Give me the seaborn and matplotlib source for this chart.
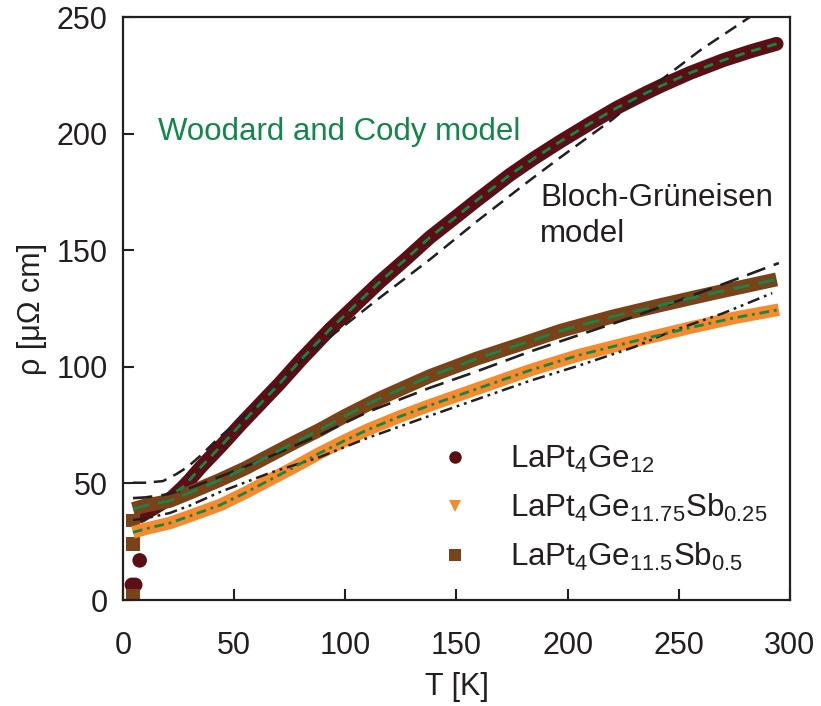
import numpy as np
import pandas as pd
import matplotlib
matplotlib.use("Agg")
import matplotlib.pyplot as plt
from matplotlib.lines import Line2D
import seaborn as sns

# ---------------- data ----------------
# LaPt4Ge12 measured resistivity
T_ge12 = [8, 15, 22, 27, 30, 35, 40, 45, 52.6, 60, 70.6, 80, 93, 104, 115.6, 127,
          138, 150, 159, 174, 185, 197, 210, 222, 235, 242, 255, 270, 283, 294]
rho_ge12 = [36, 40, 44, 48.5, 51.5, 57, 62, 67, 75, 82.4, 93, 103, 116, 126, 136.5, 146,
            155.5, 164.5, 171.3, 182.3, 189.5, 196.8, 204.3, 211, 217.3, 220.5, 226,
            231.5, 235.5, 238.5]
# superconducting drop (low-T points)
T_ge12_low = [4.0, 5.5, 7.5]
rho_ge12_low = [6.5, 6.5, 17]

# LaPt4Ge11.75Sb0.25
T_sb025 = [4.5, 10, 21, 30, 43.6, 55, 66, 77, 88.5, 100, 110, 124, 138, 159, 183,
           205, 230, 256, 275, 295]
rho_sb025 = [29, 30.5, 33, 36, 40.7, 46, 51.5, 57, 63, 68.5, 73, 78.5, 83.5, 90.5, 98.5,
             105, 111, 117, 121, 124.5]

# LaPt4Ge11.5Sb0.5
T_sb05 = [4.5, 10, 21, 30, 43.6, 55, 66, 77, 88.5, 100, 115.6, 138, 159, 183, 197,
          220, 242, 265, 294]
rho_sb05 = [39, 40.5, 42.5, 46, 51.5, 56.5, 62, 67.5, 73, 79, 86.5, 96, 103.5, 111,
            115.5, 121.5, 126.5, 131.5, 137.5]
T_sb05_low = [4.5, 4.5, 4.5]
rho_sb05_low = [2, 24, 34]

# Bloch-Grueneisen fits (black)
T_bg_ge12 = [4.5, 10, 18, 24, 29, 35, 43.6, 50, 60, 66, 84, 100, 116, 138, 160, 183,
             197, 220, 242, 260, 282, 300]
rho_bg_ge12 = [50.3, 50.3, 51, 54, 57, 62, 70, 75, 83, 89, 106, 118, 130, 146, 163, 180,
               190, 206, 223, 236, 250, 263]
T_bg_sb05 = [4.5, 10, 20, 30, 48, 66, 88.5, 110, 138, 159, 183, 205, 225, 246, 270, 295]
rho_bg_sb05 = [43.7, 44, 45.3, 48, 54.5, 61.5, 70.8, 80.6, 91, 98, 106.5, 113.6, 120,
               127, 135.5, 144.5]
T_bg_sb025 = [4.5, 10, 21, 30, 43.6, 66, 88.5, 110, 138, 159, 183, 205, 230, 246, 270, 292]
rho_bg_sb025 = [34.3, 35, 37.3, 40.5, 46.3, 54.5, 61.3, 69.5, 79, 86, 94, 100.5, 108.5,
                115, 123, 131.6]

# Woodard and Cody fits (green)
T_wc_ge12 = [24] + T_ge12[3:]
rho_wc_ge12 = [46.5] + rho_ge12[3:]
T_wc_sb05 = T_sb05
rho_wc_sb05 = rho_sb05
T_wc_sb025 = T_sb025
rho_wc_sb025 = rho_sb025

labels = [r"LaPt$_{4}$Ge$_{12}$",
          r"LaPt$_{4}$Ge$_{11.75}$Sb$_{0.25}$",
          r"LaPt$_{4}$Ge$_{11.5}$Sb$_{0.5}$"]

# ---------------- style ----------------
sns.set_theme(style="ticks")
plt.rcParams["font.family"] = ["Liberation Sans", "DejaVu Sans"]
plt.rcParams["mathtext.default"] = "regular"
plt.rcParams["lines.scale_dashes"] = False

INK = "#231f20"
C_GE12 = "#5b0f14"
C_SB025 = "#f68a2c"
C_SB05 = "#7a4219"
GREEN = "#13874a"

fig = plt.figure(figsize=(8.21, 7.06), dpi=100)
ax = fig.add_axes([0.1498, 0.1501, 0.8124, 0.8258])

band_lw = 10
# data bands
sns.lineplot(x=T_ge12, y=rho_ge12, ax=ax, color=C_GE12, lw=band_lw, sort=False,
             solid_capstyle="round", solid_joinstyle="round", zorder=2)
sns.lineplot(x=T_sb05, y=rho_sb05, ax=ax, color=C_SB05, lw=band_lw, sort=False,
             solid_capstyle="butt", solid_joinstyle="round", zorder=2.1)
sns.lineplot(x=T_sb025, y=rho_sb025, ax=ax, color=C_SB025, lw=band_lw - 1, sort=False,
             solid_capstyle="butt", solid_joinstyle="round", zorder=2.2)
# low-T points
sns.scatterplot(x=T_ge12_low, y=rho_ge12_low, ax=ax, color=C_GE12, marker="o", s=110,
                edgecolor="none", zorder=2)
sns.scatterplot(x=T_sb05_low, y=rho_sb05_low, ax=ax, color=C_SB05, marker="s", s=90,
                edgecolor="none", zorder=2)

# Bloch-Grueneisen fits
sns.lineplot(x=T_bg_ge12, y=rho_bg_ge12, ax=ax, color=INK, lw=1.8,
             linestyle=(0, (9.5, 5.5)), zorder=3)
sns.lineplot(x=T_bg_sb05, y=rho_bg_sb05, ax=ax, color=INK, lw=1.9,
             linestyle=(0, (14, 6.5)), zorder=3)
sns.lineplot(x=T_bg_sb025, y=rho_bg_sb025, ax=ax, color=INK, lw=1.8,
             linestyle=(0, (9, 3.5, 2, 3.5, 2, 3.5)), zorder=3)

# Woodard and Cody fits
sns.lineplot(x=T_wc_ge12, y=rho_wc_ge12, ax=ax, color=GREEN, lw=2.0,
             linestyle=(0, (7, 5)), zorder=4)
sns.lineplot(x=T_wc_sb05, y=rho_wc_sb05, ax=ax, color=GREEN, lw=2.0,
             linestyle=(0, (12, 6.5)), zorder=4)
sns.lineplot(x=T_wc_sb025, y=rho_wc_sb025, ax=ax, color=GREEN, lw=2.0,
             linestyle=(0, (7, 3.5, 2, 3.5)), zorder=4)

ax.set_xlim(0, 300)
ax.set_ylim(0, 250)
ax.set_xticks([0, 50, 100, 150, 200, 250, 300])
ax.set_yticks([0, 50, 100, 150, 200, 250])

for sp in ax.spines.values():
    sp.set_linewidth(1.6)
    sp.set_color(INK)
    sp.set_visible(True)
ax.tick_params(direction="in", length=8, width=1.5, color=INK, labelcolor=INK,
               labelsize=22, top=False, right=False)
ax.tick_params(axis="x", pad=22)
ax.tick_params(axis="y", pad=11)

ax.set_xlabel("T [K]", fontsize=22, color=INK, labelpad=8)
ax.set_ylabel("ρ [μΩ cm]", fontsize=22, color=INK, labelpad=7)

ax.text(15.7, 197.3, "Woodard and Cody model", color=GREEN, fontsize=22.5,
        ha="left", va="baseline")
ax.text(187.6, 169, "Bloch-Grüneisen", color=INK, fontsize=22.5,
        ha="left", va="baseline")
ax.text(187.6, 153.6, "model", color=INK, fontsize=22.5, ha="left", va="baseline")

handles = [
    Line2D([], [], ls="", marker="o", color=C_GE12, markersize=9, markeredgewidth=0),
    Line2D([], [], ls="", marker="v", color=C_SB025, markersize=9, markeredgewidth=0),
    Line2D([], [], ls="", marker="s", color=C_SB05, markersize=8, markeredgewidth=0),
]
leg = ax.legend(handles, labels, loc="upper left", bbox_to_anchor=(0.475, 0.268),
                frameon=False, fontsize=22.5, handlelength=1.0, handletextpad=1.25,
                borderpad=0, borderaxespad=0, labelspacing=0.55)
for t in leg.get_texts():
    t.set_color(INK)

fig.savefig("out.png", dpi=100, facecolor="white")
